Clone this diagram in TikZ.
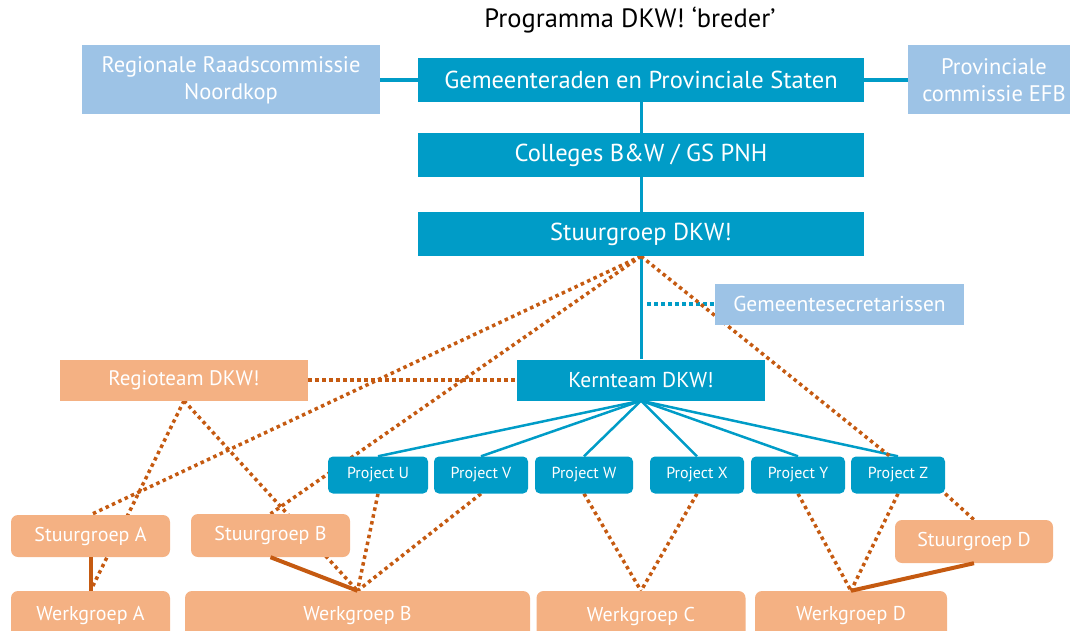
\documentclass[tikz,border=0pt]{standalone}
\usepackage{fontspec}
\setmainfont{PT Sans}
\usetikzlibrary{backgrounds}
\definecolor{dkwblue}{RGB}{0,156,199}
\definecolor{dkwlight}{RGB}{157,195,230}
\definecolor{dkwpeach}{RGB}{244,177,131}
\definecolor{dkwrust}{RGB}{197,90,17}
\tikzset{
  bluebox/.style={fill=dkwblue, text=white, inner sep=0pt, font=\fontsize{24.5}{28}\selectfont},
  lightbox/.style={fill=dkwlight, text=white, inner sep=0pt, align=center, font=\fontsize{22.5}{27}\selectfont},
  peachbox/.style={fill=dkwpeach, text=white, inner sep=0pt, font=\fontsize{21}{25}\selectfont},
  projbox/.style={bluebox, rounded corners=5pt, minimum height=37pt, font=\fontsize{16}{19}\selectfont},
  groupbox/.style={peachbox, rounded corners=7pt, font=\fontsize{20}{24}\selectfont},
  bluelink/.style={draw=dkwblue, line width=2.5pt},
  bluedots/.style={draw=dkwblue, line width=4pt, dash pattern=on 4pt off 3pt},
  rustdots/.style={draw=dkwrust, line width=3.5pt, dash pattern=on 3.5pt off 3.5pt},
  rustline/.style={draw=dkwrust, line width=4pt},
}
\begin{document}
\begin{tikzpicture}[x=1pt, y=-1pt]
      \useasboundingbox (0,0) rectangle (1070,631);
      \clip (0,0) rectangle (1070,631);
      \node (title) at (630,20) {\fontsize{26.5}{30}\selectfont Programma DKW! ‘breder’};
      \node[lightbox, minimum width=298pt, minimum height=69pt] (rrc) at (231,80) {Regionale Raadscommissie\\Noordkop};
      \node[bluebox, minimum width=446pt, minimum height=44pt] (gps) at (641,80) {Gemeenteraden en Provinciale Staten};
      \node[lightbox, minimum width=172pt, minimum height=69pt] (pce) at (994,80) {Provinciale\\commissie EFB};
      \node[bluebox, minimum width=446pt, minimum height=44pt] (cbw) at (641,155) {Colleges B\&W / GS PNH};
      \node[bluebox, minimum width=446pt, minimum height=44pt] (sdkw) at (641,234) {Stuurgroep DKW!};
      \node[lightbox, font=\fontsize{21.5}{25}\selectfont, minimum width=249pt, minimum height=41pt] (gsec) at (839.5,304) {Gemeentesecretarissen};
      \node[bluebox, font=\fontsize{21.5}{25}\selectfont, minimum width=248pt, minimum height=41pt] (kdkw) at (641,380) {Kernteam DKW!};
      \node[peachbox, minimum width=248pt, minimum height=41pt] (rdkw) at (184,380) {Regioteam DKW!};
      \node[projbox, minimum width=100pt] (pu) at (378,475) {Project U};
      \node[projbox, minimum width=94pt] (pv) at (481,475) {Project V};
      \node[projbox, minimum width=98pt] (pw) at (584,475) {Project W};
      \node[projbox, minimum width=94pt] (px) at (697,475) {Project X};
      \node[projbox, minimum width=94pt] (py) at (798,475) {Project Y};
      \node[projbox, minimum width=94pt] (pz) at (898,475) {Project Z};
      \node[groupbox, minimum width=159pt, minimum height=42pt] (sa) at (90.5,536) {Stuurgroep A};
      \node[groupbox, minimum width=159pt, minimum height=43pt] (sb) at (270.5,535.5) {Stuurgroep B};
      \node[groupbox, minimum width=158pt, minimum height=43pt] (sd) at (974,541.5) {Stuurgroep D};
      \node[groupbox, minimum width=159pt, minimum height=50pt] (wa) at (90.5,616) {Werkgroep A};
      \node[groupbox, minimum width=345pt, minimum height=50pt] (wb) at (357.5,616) {Werkgroep B};
      \node[groupbox, minimum width=209pt, minimum height=50pt] (wc) at (641,616) {Werkgroep C};
      \node[groupbox, minimum width=192pt, minimum height=50pt] (wd) at (851,616) {Werkgroep D};
      \begin{scope}[on background layer]
        \draw[bluelink, line width=4pt] (rrc) to (gps);
        \draw[bluelink, line width=4pt] (gps) to (pce);
        \draw[bluelink, line width=3pt] (gps) to (cbw);
        \draw[bluelink, line width=3pt] (cbw) to (sdkw);
        \draw[bluelink, line width=3pt] (sdkw) to (kdkw);
        \draw[bluedots] ([xshift=6pt]sdkw.south |- gsec.west) to (gsec.west);
        \foreach \p in {pu,pv,pw,px,py,pz}
          \draw[bluelink] (kdkw.south) to (\p.north);
        \draw[rustdots] (rdkw.east) to (kdkw.west);
        \draw[rustdots] (sdkw.south) to (sa.north);
        \draw[rustdots] (sdkw.south) to (sb.north);
        \draw[rustdots] (sdkw.south) to ([xshift=-8pt]pz.north);
        \draw[rustdots] (rdkw.south) to (wa.north);
        \draw[rustdots] (rdkw.south) to (wb.north);
        \draw[rustdots] (pu.south) to (wb.north);
        \draw[rustdots] (pv.south) to (wb.north);
        \draw[rustdots] (pw.south) to (wc.north);
        \draw[rustdots] (px.south) to (wc.north);
        \draw[rustdots] (py.south) to (wd.north);
        \draw[rustdots] (pz.south) to (wd.north);
        \draw[rustdots] (pz.south east) to (sd.north);
      \end{scope}
      \draw[rustline] (sa.south) to (wa.north);
      \draw[rustline] (sb.south) to (wb.north);
      \draw[rustline] (sd.south) to (wd.north);
    \end{tikzpicture}
\end{document}
